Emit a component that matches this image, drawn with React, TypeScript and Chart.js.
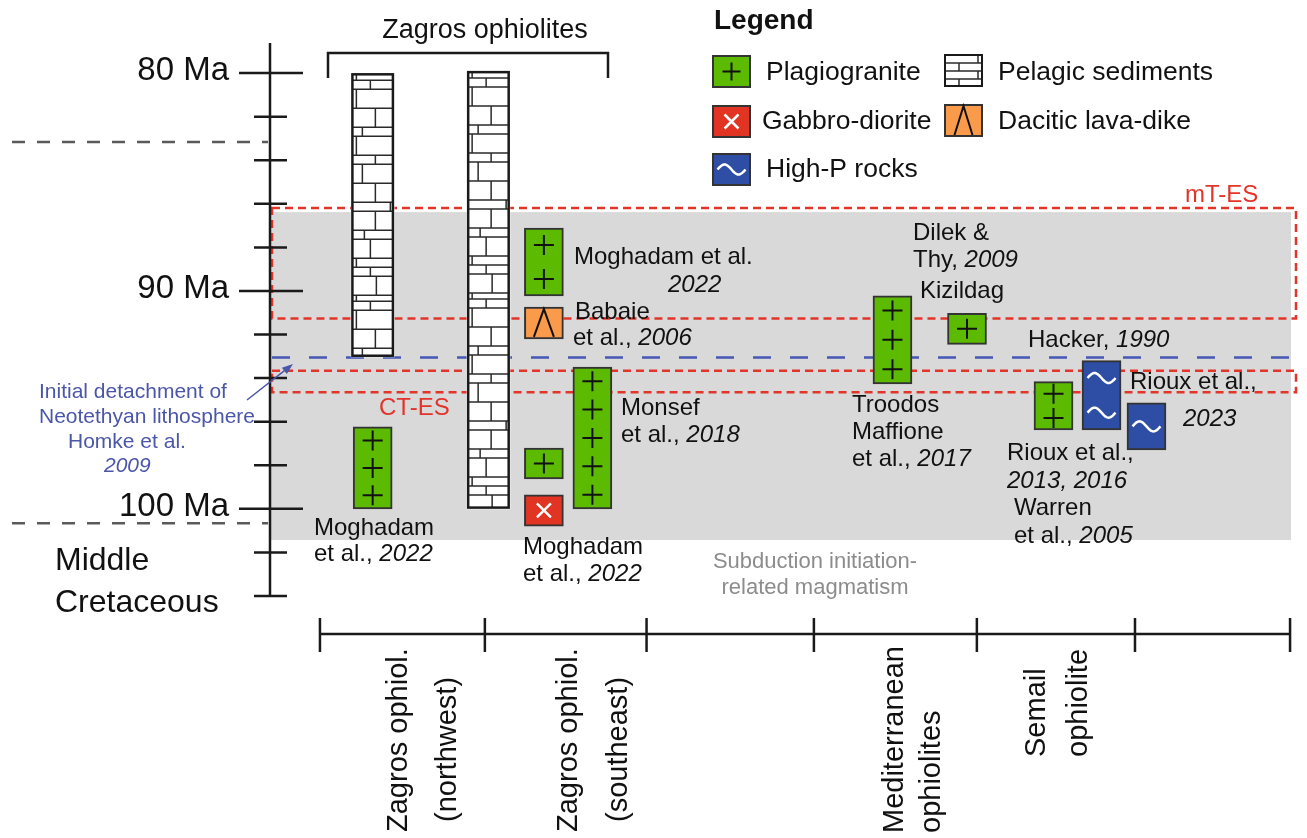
import React, { useEffect, useRef } from "react";
import { Chart, registerables } from "chart.js";

Chart.register(...registerables);

const FONT = '"Liberation Sans", Arial, Helvetica, sans-serif';

// ---- Age axis (Ma, older downwards) ----
const AGE_MIN = 78.62;
const AGE_MAX = 104;
const AGE_TICKS = [80, 82, 84, 86, 88, 90, 92, 94, 96, 98, 100, 102, 104];
const AGE_LABEL_VALUES = [80, 90, 100];
const AGE_LABELS = ["80 Ma", "90 Ma", "100 Ma"];

// ---- Region axis ----
const X_MIN = -0.309;
const X_MAX = 6.043;
const REGION_BOUNDS = [0, 1.02, 2.02, 3.055, 4.063, 5.041, 6.0];
const REGION_NAMES = [
  ["Zagros ophiol.", "(northwest)"],
  ["Zagros ophiol.", "(southeast)"],
  [],
  ["Mediterranean", "ophiolites"],
  ["Semail", "ophiolite"],
  [],
];

// ---- Pelagic sediment sections ----
const pelagicX = [0.326, 1.042];
const pelagicAges = [
  [80.0, 93.03],
  [79.9, 100.0],
];

// ---- Plagiogranite ages ----
const plagioX = [0.326, 1.385, 1.385, 1.685, 3.541, 4.002, 4.537];
const plagioAges = [
  [96.24, 100.0],
  [87.11, 90.23],
  [97.21, 98.63],
  [93.49, 100.0],
  [90.22, 94.27],
  [91.03, 92.45],
  [94.16, 96.38],
];
const plagioSamples = [3, 2, 1, 5, 3, 1, 2];

// ---- Gabbro-diorite ----
const gabbroX = [1.385];
const gabbroAges = [[99.36, 100.79]];

// ---- Dacitic lava-dike ----
const daciteX = [1.385];
const daciteAges = [[90.74, 92.2]];

// ---- High-P rocks ----
const highPX = [4.834, 5.112];
const highPAges = [
  [93.2, 96.38],
  [95.13, 97.3],
];
const highPSamples = [2, 1];

// ---- Events / windows ----
const SI_BAND = [86.38, 101.43]; // subduction initiation-related magmatism
const SI_BAND_RIGHT = 6.006;
const MT_ES = [86.19, 91.26];
const CT_ES = [93.66, 94.65];
const DETACHMENT_AGE = 93.05;
const PERIOD_LINES = [83.16, 100.66];

// ---- Colours ----
const GREEN = "#5cba00";
const RED = "#e13423";
const ORANGE = "#fa9b4b";
const BLUE = "#2e4ea6";
const BAND = "#d9d9d9";
const WINDOW_RED = "#e3342a";
const LINE_BLUE = "#4757b3";
const TEXT_BLUE = "#4a56a8";
const INK = "#111111";
const BORDER = "#333333";

// brick texture of the sediment columns (row heights and joint offsets, px)
const BRICK_ROWS = [6, 9, 19, 19, 9, 19, 9, 19, 19, 9, 19, 9, 19, 9, 9, 19];
const BRICK_JOINTS = [4, 18, 4, 23, 10, 4, 23, 10, 23, 38, 23, 12, 18, 4, 18, 24];

type Run = [string, boolean?];

function drawRuns(ctx: CanvasRenderingContext2D, parts: Run[], x: number, y: number, size: number, color = INK, align = "left", weight = "") {
  ctx.textBaseline = "middle";
  ctx.textAlign = "left";
  const fontOf = (it?: boolean) => `${it ? "italic " : ""}${weight ? weight + " " : ""}${size}px ${FONT}`;
  const widths = parts.map(([s, it]) => {
    ctx.font = fontOf(it);
    return ctx.measureText(s).width;
  });
  const total = widths.reduce((a, b) => a + b, 0);
  let cx = align === "center" ? x - total / 2 : align === "right" ? x - total : x;
  ctx.fillStyle = color;
  parts.forEach(([s, it], i) => {
    ctx.font = fontOf(it);
    ctx.fillText(s, cx, y);
    cx += widths[i];
  });
}

function drawCross(ctx: CanvasRenderingContext2D, cx: number, cy: number, size: number) {
  ctx.beginPath();
  ctx.moveTo(cx - size / 2, cy);
  ctx.lineTo(cx + size / 2, cy);
  ctx.moveTo(cx, cy - size / 2);
  ctx.lineTo(cx, cy + size / 2);
  ctx.stroke();
}

function drawWave(ctx: CanvasRenderingContext2D, cx: number, cy: number, half: number, amp: number) {
  ctx.beginPath();
  for (let i = 0; i <= 40; i++) {
    const t = i / 40;
    const px = cx - half + 2 * half * t;
    const py = cy - amp * Math.sin(2 * Math.PI * t);
    if (i === 0) ctx.moveTo(px, py);
    else ctx.lineTo(px, py);
  }
  ctx.stroke();
}

function drawX(ctx: CanvasRenderingContext2D, cx: number, cy: number, half: number) {
  ctx.beginPath();
  ctx.moveTo(cx - half, cy - half);
  ctx.lineTo(cx + half, cy + half);
  ctx.moveTo(cx + half, cy - half);
  ctx.lineTo(cx - half, cy + half);
  ctx.stroke();
}

function drawLambda(ctx: CanvasRenderingContext2D, cx: number, top: number, bottom: number, half: number) {
  ctx.beginPath();
  ctx.moveTo(cx - half, bottom);
  ctx.lineTo(cx, top);
  ctx.lineTo(cx + half, bottom);
  ctx.stroke();
}

function drawBricks(ctx: CanvasRenderingContext2D, l: number, t: number, r: number, b: number, rows: number[], joints: number[]) {
  ctx.save();
  ctx.beginPath();
  ctx.rect(l, t, r - l, b - t);
  ctx.clip();
  ctx.strokeStyle = "#2a2a2a";
  ctx.lineWidth = 1.5;
  let y = t;
  let i = 0;
  while (y < b) {
    const h = rows[i % rows.length];
    const j = joints[i % joints.length];
    ctx.beginPath();
    ctx.moveTo(l + j, y);
    ctx.lineTo(l + j, y + h);
    ctx.stroke();
    y += h;
    if (y < b - 2) {
      ctx.beginPath();
      ctx.moveTo(l, y);
      ctx.lineTo(r, y);
      ctx.stroke();
    }
    i++;
  }
  ctx.restore();
}

function boxOf(el: any) {
  const p = el.getProps(["x", "y", "base", "width"], true);
  const top = Math.min(p.y, p.base);
  const bottom = Math.max(p.y, p.base);
  return { cx: p.x, left: p.x - p.width / 2, right: p.x + p.width / 2, top, bottom, h: bottom - top };
}

// text placed around the chart (left x / middle y in px)
const NOTES: { x: number; y: number; parts: Run[]; color?: string; size?: number; align?: string }[] = [
  { x: 574, y: 257, parts: [["Moghadam et al."]] },
  { x: 668, y: 285, parts: [["2022", true]] },
  { x: 575, y: 312, parts: [["Babaie"]] },
  { x: 573, y: 338, parts: [["et al., "], ["2006", true]] },
  { x: 621, y: 408, parts: [["Monsef"]] },
  { x: 621, y: 435, parts: [["et al., "], ["2018", true]] },
  { x: 314, y: 528, parts: [["Moghadam"]] },
  { x: 314, y: 554, parts: [["et al., "], ["2022", true]] },
  { x: 523, y: 547, parts: [["Moghadam"]] },
  { x: 523, y: 574, parts: [["et al., "], ["2022", true]] },
  { x: 913, y: 233, parts: [["Dilek &"]] },
  { x: 913, y: 260, parts: [["Thy, "], ["2009", true]] },
  { x: 920, y: 291, parts: [["Kizildag"]] },
  { x: 1028, y: 340, parts: [["Hacker, "], ["1990", true]] },
  { x: 852, y: 405, parts: [["Troodos"]] },
  { x: 852, y: 432, parts: [["Maffione"]] },
  { x: 852, y: 459, parts: [["et al., "], ["2017", true]] },
  { x: 1130, y: 382, parts: [["Rioux et al.,"]] },
  { x: 1183, y: 419, parts: [["2023", true]] },
  { x: 1007, y: 453, parts: [["Rioux et al.,"]] },
  { x: 1007, y: 481, parts: [["2013, 2016", true]] },
  { x: 1014, y: 508, parts: [["Warren"]] },
  { x: 1014, y: 536, parts: [["et al., "], ["2005", true]] },
  { x: 379, y: 408, parts: [["CT-ES"]], color: WINDOW_RED },
  { x: 1185, y: 195, parts: [["mT-ES"]], color: WINDOW_RED },
  { x: 815, y: 562, parts: [["Subduction initiation-"]], color: "#8c8c8c", size: 22, align: "center" },
  { x: 815, y: 588, parts: [["related magmatism"]], color: "#8c8c8c", size: 22, align: "center" },
  { x: 39, y: 392, parts: [["Initial detachment of"]], color: TEXT_BLUE, size: 21 },
  { x: 39, y: 417, parts: [["Neotethyan lithosphere"]], color: TEXT_BLUE, size: 21 },
  { x: 68, y: 442, parts: [["Homke et al."]], color: TEXT_BLUE, size: 21 },
  { x: 104, y: 466, parts: [["2009", true]], color: TEXT_BLUE, size: 21 },
];

// rotated region labels: baseline x and start y of each line
const REGION_LABEL_POS = [
  [[407, 832], [456, 822]],
  [[577, 832], [627, 822]],
  [],
  [[903, 833], [940, 833]],
  [[1045, 757], [1087, 757]],
  [],
];

const decor = {
  id: "ophioliteDecor",
  beforeDatasetsDraw(chart: any) {
    const { ctx, chartArea: ca, scales } = chart;
    const x = scales.x;
    const y = scales.y;
    ctx.save();
    // subduction initiation band
    const bt = y.getPixelForValue(SI_BAND[0]);
    const bb = y.getPixelForValue(SI_BAND[1]);
    ctx.fillStyle = BAND;
    ctx.fillRect(ca.left, bt, x.getPixelForValue(SI_BAND_RIGHT) - ca.left, bb - bt);
    // extension windows
    ctx.setLineDash([8, 5]);
    ctx.strokeStyle = WINDOW_RED;
    ctx.lineWidth = 2.5;
    for (const w of [MT_ES, CT_ES]) {
      const t = y.getPixelForValue(w[0]);
      const b = y.getPixelForValue(w[1]);
      ctx.strokeRect(ca.left + 2, t, ca.right - ca.left - 3, b - t);
    }
    // detachment
    ctx.setLineDash([18, 19]);
    ctx.strokeStyle = LINE_BLUE;
    const dy = y.getPixelForValue(DETACHMENT_AGE);
    ctx.beginPath();
    ctx.moveTo(ca.left + 2, dy);
    ctx.lineTo(ca.right, dy);
    ctx.stroke();
    ctx.restore();
  },
  afterDatasetsDraw(chart: any) {
    const { ctx } = chart;
    ctx.save();
    chart.data.datasets.forEach((ds: any, di: number) => {
      const meta = chart.getDatasetMeta(di);
      meta.data.forEach((el: any, i: number) => {
        const b = boxOf(el);
        if (ds.label === "Pelagic sediments") {
          drawBricks(ctx, b.left + 1.2, b.top + 1.2, b.right - 1.2, b.bottom - 1.2, BRICK_ROWS, BRICK_JOINTS);
          ctx.strokeStyle = "#1a1a1a";
          ctx.lineWidth = 2.5;
          ctx.setLineDash([]);
          ctx.strokeRect(b.left + 1.25, b.top + 1.25, b.right - b.left - 2.5, b.h - 2.5);
        } else if (ds.label === "Plagiogranite") {
          ctx.strokeStyle = INK;
          ctx.lineWidth = 2;
          const n = plagioSamples[i];
          for (let k = 0; k < n; k++) drawCross(ctx, b.cx, b.top + (b.h * (k + 0.5)) / n, 20);
        } else if (ds.label === "Gabbro-diorite") {
          ctx.strokeStyle = "#ffffff";
          ctx.lineWidth = 2.5;
          drawX(ctx, b.cx, b.top + b.h / 2, 7);
        } else if (ds.label === "Dacitic lava-dike") {
          ctx.strokeStyle = INK;
          ctx.lineWidth = 2;
          drawLambda(ctx, b.cx, b.top + 2, b.bottom - 2, 10);
        } else if (ds.label === "High-P rocks") {
          ctx.strokeStyle = "#ffffff";
          ctx.lineWidth = 2.5;
          const n = highPSamples[i];
          for (let k = 0; k < n; k++) drawWave(ctx, b.cx, b.top + (b.h * (k + 0.5)) / n, 14, 5);
        }
      });
    });
    ctx.restore();
  },
  afterDraw(chart: any) {
    const { ctx, chartArea: ca, scales } = chart;
    const x = scales.x;
    const y = scales.y;
    ctx.save();
    ctx.lineCap = "butt";

    // period boundaries left of the axis
    ctx.setLineDash([13, 12]);
    ctx.strokeStyle = "#5a5a5a";
    ctx.lineWidth = 2.5;
    for (const a of PERIOD_LINES) {
      const py = y.getPixelForValue(a);
      ctx.beginPath();
      ctx.moveTo(12, py);
      ctx.lineTo(ca.left - 2, py);
      ctx.stroke();
    }
    ctx.setLineDash([]);

    // age axis
    const ax = ca.left;
    ctx.strokeStyle = "#1a1a1a";
    ctx.lineWidth = 2.5;
    ctx.beginPath();
    ctx.moveTo(ax, y.getPixelForValue(AGE_MIN));
    ctx.lineTo(ax, y.getPixelForValue(AGE_MAX));
    for (const a of AGE_TICKS) {
      const major = AGE_LABEL_VALUES.includes(a);
      const py = y.getPixelForValue(a);
      ctx.moveTo(ax - (major ? 31 : 16), py);
      ctx.lineTo(ax + (major ? 33 : 17), py);
    }
    ctx.stroke();
    AGE_LABEL_VALUES.forEach((a, i) => {
      drawRuns(ctx, [[AGE_LABELS[i]]], 229, y.getPixelForValue(a) - 2, 33, INK, "right");
    });
    ctx.font = `32px ${FONT}`;
    ctx.textBaseline = "alphabetic";
    ctx.textAlign = "left";
    ctx.fillStyle = INK;
    ctx.fillText("Middle", 55, 570);
    ctx.fillText("Cretaceous", 55, 612);

    // region axis
    const axisY = 634;
    ctx.strokeStyle = "#1a1a1a";
    ctx.lineWidth = 2.5;
    ctx.beginPath();
    ctx.moveTo(x.getPixelForValue(REGION_BOUNDS[0]), axisY);
    ctx.lineTo(x.getPixelForValue(REGION_BOUNDS[REGION_BOUNDS.length - 1]), axisY);
    for (const v of REGION_BOUNDS) {
      const px = x.getPixelForValue(v);
      ctx.moveTo(px, axisY - 16);
      ctx.lineTo(px, axisY + 18);
    }
    ctx.stroke();
    REGION_NAMES.forEach((lines, ri) => {
      lines.forEach((s, li) => {
        const [bx, sy] = REGION_LABEL_POS[ri][li];
        ctx.save();
        ctx.translate(bx, sy);
        ctx.rotate(-Math.PI / 2);
        ctx.font = `29px ${FONT}`;
        ctx.textAlign = "left";
        ctx.textBaseline = "alphabetic";
        ctx.fillStyle = INK;
        ctx.fillText(s, 0, 0);
        ctx.restore();
      });
    });

    // Zagros bracket
    ctx.strokeStyle = "#1a1a1a";
    ctx.lineWidth = 2.5;
    ctx.beginPath();
    ctx.moveTo(328, 78);
    ctx.lineTo(328, 53);
    ctx.lineTo(608, 53);
    ctx.lineTo(608, 78);
    ctx.stroke();
    ctx.font = `27px ${FONT}`;
    ctx.textAlign = "center";
    ctx.textBaseline = "alphabetic";
    ctx.fillStyle = INK;
    ctx.fillText("Zagros ophiolites", 485, 38);

    // annotations
    for (const n of NOTES) drawRuns(ctx, n.parts, n.x, n.y, n.size || 24, n.color || INK, n.align || "left");

    // detachment arrow
    ctx.strokeStyle = TEXT_BLUE;
    ctx.fillStyle = TEXT_BLUE;
    ctx.lineWidth = 1.5;
    const x0 = 247, y0 = 400, x1 = 293, y1 = 364;
    const ang = Math.atan2(y1 - y0, x1 - x0);
    ctx.beginPath();
    ctx.moveTo(x0, y0);
    ctx.lineTo(x1 - 8 * Math.cos(ang), y1 - 8 * Math.sin(ang));
    ctx.stroke();
    ctx.beginPath();
    ctx.moveTo(x1, y1);
    ctx.lineTo(x1 - 11 * Math.cos(ang) + 4 * Math.sin(ang), y1 - 11 * Math.sin(ang) - 4 * Math.cos(ang));
    ctx.lineTo(x1 - 11 * Math.cos(ang) - 4 * Math.sin(ang), y1 - 11 * Math.sin(ang) + 4 * Math.cos(ang));
    ctx.closePath();
    ctx.fill();

    // legend
    drawRuns(ctx, [["Legend"]], 714, 21, 28, INK, "left", "bold");
    const sw = 39, sh = 33;
    const swatch = (lx: number, ty: number, fill: string) => {
      ctx.fillStyle = fill;
      ctx.fillRect(lx, ty, sw, sh);
      ctx.strokeStyle = BORDER;
      ctx.lineWidth = 2;
      ctx.strokeRect(lx + 1, ty + 1, sw - 2, sh - 2);
    };
    swatch(712, 55, GREEN);
    ctx.strokeStyle = INK;
    ctx.lineWidth = 2;
    drawCross(ctx, 712 + sw / 2, 55 + sh / 2, 18);
    swatch(712, 105, RED);
    ctx.strokeStyle = "#ffffff";
    ctx.lineWidth = 2.5;
    drawX(ctx, 712 + sw / 2, 105 + sh / 2, 7);
    swatch(712, 153, BLUE);
    ctx.strokeStyle = "#ffffff";
    ctx.lineWidth = 2.5;
    drawWave(ctx, 712 + sw / 2, 153 + sh / 2, 14, 5);
    swatch(944, 54, "#ffffff");
    drawBricks(ctx, 945, 55, 982, 86, [8, 8, 8, 8], [33, 14, 33, 14]);
    ctx.strokeStyle = "#1a1a1a";
    ctx.lineWidth = 2;
    ctx.strokeRect(945, 55, sw - 2, sh - 2);
    swatch(944, 104, ORANGE);
    ctx.strokeStyle = INK;
    ctx.lineWidth = 2;
    drawLambda(ctx, 944 + sw / 2, 106, 135, 9);
    drawRuns(ctx, [["Plagiogranite"]], 766, 73, 26.5);
    drawRuns(ctx, [["Gabbro-diorite"]], 762, 122, 26.5);
    drawRuns(ctx, [["High-P rocks"]], 766, 170, 26.5);
    drawRuns(ctx, [["Pelagic sediments"]], 998, 73, 26.5);
    drawRuns(ctx, [["Dacitic lava-dike"]], 998, 122, 26.5);

    ctx.restore();
  },
};

const toPoints = (xs: number[], ages: number[][]) => xs.map((x, i) => ({ x, y: ages[i] }));

export default function App() {
  const ref = useRef<HTMLCanvasElement>(null);
  useEffect(() => {
    if (!ref.current) return;
    const common = {
      borderSkipped: false,
      grouped: false,
      barPercentage: 1,
      categoryPercentage: 1,
    };
    const chart = new Chart(ref.current, {
      type: "bar",
      data: {
        datasets: [
          { ...common, label: "Pelagic sediments", data: toPoints(pelagicX, pelagicAges), backgroundColor: "#ffffff", borderColor: "#1a1a1a", borderWidth: 0, barThickness: 43, maxBarThickness: 43 },
          { ...common, label: "Plagiogranite", data: toPoints(plagioX, plagioAges), backgroundColor: GREEN, borderColor: BORDER, borderWidth: 2, barThickness: 39, maxBarThickness: 39 },
          { ...common, label: "Gabbro-diorite", data: toPoints(gabbroX, gabbroAges), backgroundColor: RED, borderColor: BORDER, borderWidth: 2, barThickness: 39, maxBarThickness: 39 },
          { ...common, label: "Dacitic lava-dike", data: toPoints(daciteX, daciteAges), backgroundColor: ORANGE, borderColor: BORDER, borderWidth: 2, barThickness: 39, maxBarThickness: 39 },
          { ...common, label: "High-P rocks", data: toPoints(highPX, highPAges), backgroundColor: BLUE, borderColor: BORDER, borderWidth: 2, barThickness: 39, maxBarThickness: 39 },
        ] as any,
      },
      options: {
        responsive: false,
        animation: false,
        devicePixelRatio: 1,
        events: [],
        layout: { padding: { left: 270, right: 10, top: 43, bottom: 242 } },
        scales: {
          x: { type: "linear", min: X_MIN, max: X_MAX, offset: false, display: false },
          y: { type: "linear", min: AGE_MIN, max: AGE_MAX, reverse: true, display: false, stacked: false },
        },
        plugins: { legend: { display: false }, tooltip: { enabled: false } },
      } as any,
      plugins: [decor],
    });
    return () => chart.destroy();
  }, []);
  return (
    <div style={{ position: "absolute", left: 0, top: 0, width: 1307, height: 838, background: "#ffffff" }}>
      <canvas ref={ref} width={1307} height={838} style={{ display: "block", width: 1307, height: 838 }} />
    </div>
  );
}
